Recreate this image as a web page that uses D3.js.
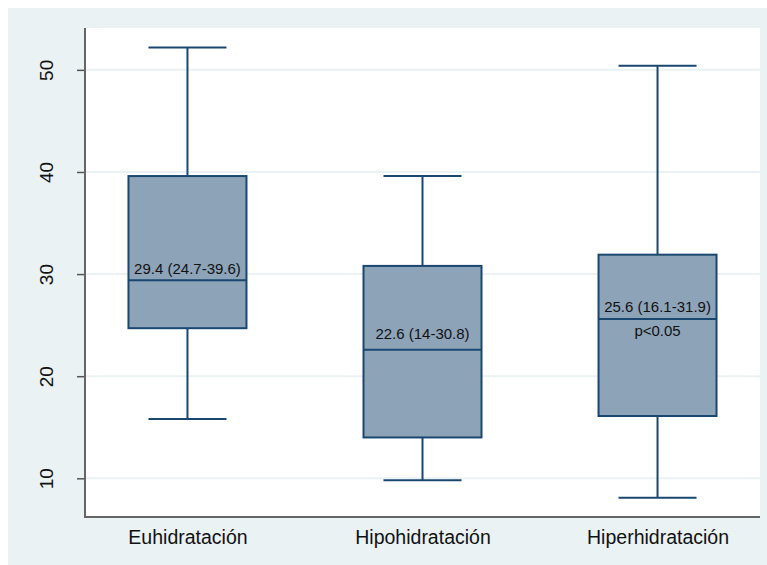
<!DOCTYPE html>
<html><head><meta charset="utf-8">
<script src="https://cdn.jsdelivr.net/npm/d3@7"></script>
<style>body{margin:0;background:#fff}svg{display:block}text{font-family:"Liberation Sans",Arial,sans-serif}</style>
</head><body>
<svg id="chart" width="767" height="565"></svg>
<script>
const categories = ["Euhidratación", "Hipohidratación", "Hiperhidratación"];
const whiskerLow = [15.8, 9.8, 8.1];
const q1 = [24.7, 14.0, 16.1];
const median = [29.4, 22.6, 25.6];
const q3 = [39.6, 30.8, 31.9];
const whiskerHigh = [52.2, 39.6, 50.4];
const boxLabels = ["29.4 (24.7-39.6)", "22.6 (14-30.8)", "25.6 (16.1-31.9)"];
const boxLabelY = [30.0, 23.6, 26.3];
const pLabel = {group: "Hiperhidratación", text: "p<0.05", y: 23.9};
const yTicks = [10, 20, 30, 40, 50];

const svg = d3.select("#chart");
const W = 767, H = 565;
const plot = {left: 85, right: 760, top: 28, bottom: 517};

svg.append("rect").attr("x", 8).attr("y", 8).attr("width", W - 8).attr("height", H - 8).attr("fill", "#EAF2F3");
svg.append("rect").attr("x", plot.left).attr("y", plot.top).attr("width", plot.right - plot.left).attr("height", plot.bottom - plot.top).attr("fill", "#fff");

const x = d3.scalePoint().domain(categories).range([plot.left, plot.right]).padding(0.436);
const y = d3.scaleLinear().domain([6.21, 54.1]).range([plot.bottom, plot.top]);

// grid
svg.append("g").selectAll("line").data(yTicks).join("line")
  .attr("x1", plot.left).attr("x2", plot.right)
  .attr("y1", d => y(d)).attr("y2", d => y(d))
  .attr("stroke", "#EAF2F3").attr("stroke-width", 2);

const data = categories.map((c, i) => ({c, lo: whiskerLow[i], q1: q1[i], med: median[i], q3: q3[i], hi: whiskerHigh[i], label: boxLabels[i], ly: boxLabelY[i]}));
const boxW = 118, capW = 78;
const navy = "#1A476F";
const g = svg.append("g").selectAll("g").data(data).join("g").attr("transform", d => `translate(${x(d.c)},0)`);
g.append("line").attr("x1", 0).attr("x2", 0).attr("y1", d => y(d.hi)).attr("y2", d => y(d.q3)).attr("stroke", navy).attr("stroke-width", 2);
g.append("line").attr("x1", 0).attr("x2", 0).attr("y1", d => y(d.q1)).attr("y2", d => y(d.lo)).attr("stroke", navy).attr("stroke-width", 2);
g.append("line").attr("x1", -capW/2).attr("x2", capW/2).attr("y1", d => y(d.hi)).attr("y2", d => y(d.hi)).attr("stroke", navy).attr("stroke-width", 2);
g.append("line").attr("x1", -capW/2).attr("x2", capW/2).attr("y1", d => y(d.lo)).attr("y2", d => y(d.lo)).attr("stroke", navy).attr("stroke-width", 2);
g.append("rect").attr("x", -boxW/2).attr("width", boxW)
  .attr("y", d => y(d.q3)).attr("height", d => y(d.q1) - y(d.q3))
  .attr("fill", "#8DA3B8").attr("stroke", navy).attr("stroke-width", 2);
g.append("line").attr("x1", -boxW/2).attr("x2", boxW/2).attr("y1", d => y(d.med)).attr("y2", d => y(d.med)).attr("stroke", navy).attr("stroke-width", 2);
g.append("text").attr("x", 0).attr("y", d => y(d.ly)).attr("text-anchor", "middle").attr("font-size", 15).attr("fill", "#111").text(d => d.label);

svg.append("text").attr("x", x(pLabel.group)).attr("y", y(pLabel.y)).attr("text-anchor", "middle").attr("font-size", 15).attr("fill", "#111").text(pLabel.text);

// y axis
const yAxis = svg.append("g").attr("transform", `translate(${plot.left},0)`)
  .call(d3.axisLeft(y).tickValues(yTicks).tickSize(8).tickFormat(d3.format("d")));
yAxis.select(".domain").remove();
yAxis.selectAll(".tick line").attr("stroke", "#555").attr("stroke-width", 1.5);
yAxis.selectAll(".tick text").attr("font-size", 19).attr("fill", "#111")
  .attr("font-family", '"Liberation Sans",Arial,sans-serif')
  .attr("transform", "rotate(-90)").attr("x", 0).attr("dy", 0).attr("y", -32)
  .attr("text-anchor", "middle");
svg.append("line").attr("x1", plot.left).attr("x2", plot.left).attr("y1", plot.top).attr("y2", plot.bottom + 1).attr("stroke", "#666").attr("stroke-width", 2);

// x axis
const xAxis = svg.append("g").attr("transform", `translate(0,${plot.bottom})`)
  .call(d3.axisBottom(x).tickSize(0).tickPadding(0));
xAxis.select(".domain").remove();
xAxis.selectAll(".tick text").attr("font-size", 19.5).attr("fill", "#111")
  .attr("font-family", '"Liberation Sans",Arial,sans-serif')
  .attr("dy", 0).attr("y", 27);
svg.append("line").attr("x1", plot.left - 1).attr("x2", plot.right).attr("y1", plot.bottom).attr("y2", plot.bottom).attr("stroke", "#666").attr("stroke-width", 2);
</script>
</body></html>
